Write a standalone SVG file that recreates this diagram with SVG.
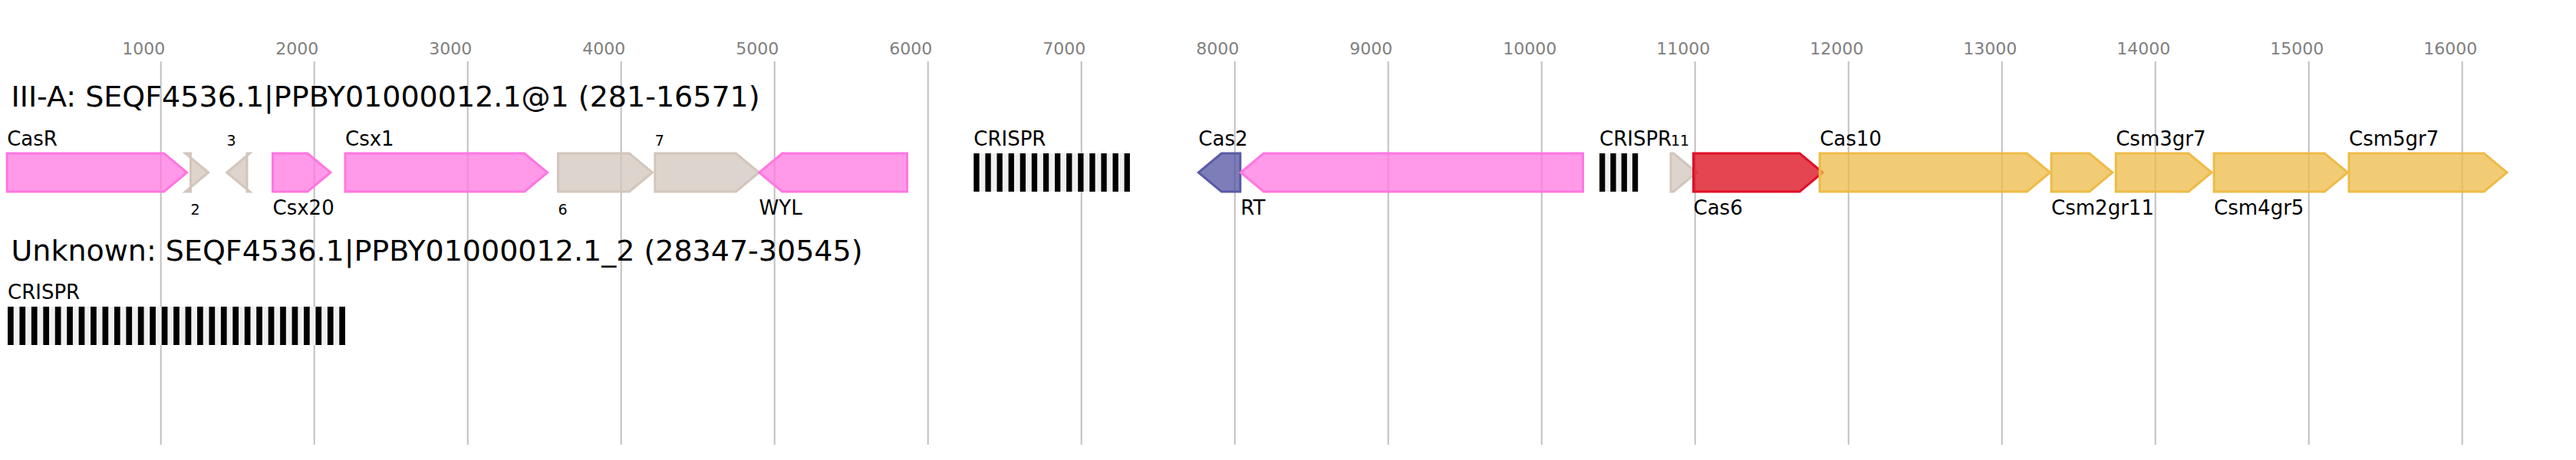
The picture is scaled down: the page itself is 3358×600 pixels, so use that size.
<svg xmlns="http://www.w3.org/2000/svg" width="3358" height="600" viewBox="0 0 3358 600">
<style>
text{font-family:"DejaVu Sans","Liberation Sans",sans-serif;fill:#000}
.tick{stroke:#c0c0c0;stroke-width:2}
.tl{font-size:22px;fill:#808080}
.title{font-size:38px}
.lbl{font-size:26px}
.sm{font-size:19px}
.gene{stroke-width:3;fill-opacity:0.75}
.pink{fill:#ff77e0;stroke:#ff77e0}
.gray{fill:#d2c6bc;stroke:#d2c6bc}
.blue{fill:#5252a2;stroke:#5a5aa6}
.red{fill:#dc0716;stroke:#e0102a}
.orange{fill:#eebb47;stroke:#eebb47}
.sp{fill:#f0f0f0}
.rp{fill:#000}
</style>
<rect width="3358" height="600" fill="#fff"/>
<g id="axis">
<line class="tick" x1="209.7" y1="80" x2="209.7" y2="580"/>
<line class="tick" x1="409.7" y1="80" x2="409.7" y2="580"/>
<line class="tick" x1="609.7" y1="80" x2="609.7" y2="580"/>
<line class="tick" x1="809.7" y1="80" x2="809.7" y2="580"/>
<line class="tick" x1="1009.7" y1="80" x2="1009.7" y2="580"/>
<line class="tick" x1="1209.7" y1="80" x2="1209.7" y2="580"/>
<line class="tick" x1="1409.7" y1="80" x2="1409.7" y2="580"/>
<line class="tick" x1="1609.7" y1="80" x2="1609.7" y2="580"/>
<line class="tick" x1="1809.7" y1="80" x2="1809.7" y2="580"/>
<line class="tick" x1="2009.7" y1="80" x2="2009.7" y2="580"/>
<line class="tick" x1="2209.7" y1="80" x2="2209.7" y2="580"/>
<line class="tick" x1="2409.7" y1="80" x2="2409.7" y2="580"/>
<line class="tick" x1="2609.7" y1="80" x2="2609.7" y2="580"/>
<line class="tick" x1="2809.7" y1="80" x2="2809.7" y2="580"/>
<line class="tick" x1="3009.7" y1="80" x2="3009.7" y2="580"/>
<line class="tick" x1="3209.7" y1="80" x2="3209.7" y2="580"/>
<text class="tl" x="159.2" y="70.7">1000</text>
<text class="tl" x="359.2" y="70.7">2000</text>
<text class="tl" x="559.2" y="70.7">3000</text>
<text class="tl" x="759.2" y="70.7">4000</text>
<text class="tl" x="959.2" y="70.7">5000</text>
<text class="tl" x="1159.2" y="70.7">6000</text>
<text class="tl" x="1359.2" y="70.7">7000</text>
<text class="tl" x="1559.2" y="70.7">8000</text>
<text class="tl" x="1759.2" y="70.7">9000</text>
<text class="tl" x="1959.2" y="70.7">10000</text>
<text class="tl" x="2159.2" y="70.7">11000</text>
<text class="tl" x="2359.2" y="70.7">12000</text>
<text class="tl" x="2559.2" y="70.7">13000</text>
<text class="tl" x="2759.2" y="70.7">14000</text>
<text class="tl" x="2959.2" y="70.7">15000</text>
<text class="tl" x="3159.2" y="70.7">16000</text>
</g>
<g id="titles">
<text class="title" x="14.5" y="139">III-A: SEQF4536.1|PPBY01000012.1@1 (281-16571)</text>
<text class="title" x="14.5" y="340">Unknown: SEQF4536.1|PPBY01000012.1_2 (28347-30545)</text>
</g>
<g id="connectors"></g>
<g id="n-CasR"><polygon class="gene pink" points="9.2,200 213.7,200 243.7,225 213.7,250 9.2,250"/><text class="lbl" x="9.2" y="190">CasR</text></g>
<g id="n-2"><polygon class="gene gray" points="248.5,200 241.7,200 271.7,225 241.7,250 248.5,250"/><text class="sm" x="248.5" y="279.5">2</text></g>
<g id="n-3"><polygon class="gene gray" points="322,200 325.6,200 295.6,225 325.6,250 322,250"/><text class="sm" x="295.6" y="190">3</text></g>
<g id="n-Csx20"><polygon class="gene pink" points="355.5,200 401,200 431,225 401,250 355.5,250"/><text class="lbl" x="355.5" y="279.5">Csx20</text></g>
<g id="n-Csx1"><polygon class="gene pink" points="450,200 683.7,200 713.7,225 683.7,250 450,250"/><text class="lbl" x="450" y="190">Csx1</text></g>
<g id="n-6"><polygon class="gene gray" points="727.5,200 820.4,200 850.4,225 820.4,250 727.5,250"/><text class="sm" x="727.5" y="279.5">6</text></g>
<g id="n-7"><polygon class="gene gray" points="853.8,200 959.4,200 989.4,225 959.4,250 853.8,250"/><text class="sm" x="853.8" y="190">7</text></g>
<g id="n-WYL"><polygon class="gene pink" points="1182.5,200 1019.6,200 989.6,225 1019.6,250 1182.5,250"/><text class="lbl" x="989.6" y="279.5">WYL</text></g>
<g id="n-CRISPR1">
<rect class="sp" x="1269.3" y="200" width="203.6" height="50"/>
<rect class="rp" x="1269.3" y="200" width="7.3" height="50"/><rect class="rp" x="1284.4" y="200" width="7.3" height="50"/><rect class="rp" x="1299.5" y="200" width="7.3" height="50"/><rect class="rp" x="1314.6" y="200" width="7.3" height="50"/><rect class="rp" x="1329.7" y="200" width="7.3" height="50"/><rect class="rp" x="1344.8" y="200" width="7.3" height="50"/><rect class="rp" x="1359.9" y="200" width="7.3" height="50"/><rect class="rp" x="1375" y="200" width="7.3" height="50"/><rect class="rp" x="1390.1" y="200" width="7.3" height="50"/><rect class="rp" x="1405.2" y="200" width="7.3" height="50"/><rect class="rp" x="1420.3" y="200" width="7.3" height="50"/><rect class="rp" x="1435.4" y="200" width="7.3" height="50"/><rect class="rp" x="1450.5" y="200" width="7.3" height="50"/><rect class="rp" x="1465.6" y="200" width="7.3" height="50"/>
<text class="lbl" x="1269.3" y="190">CRISPR</text></g>
<g id="n-Cas2"><polygon class="gene blue" points="1616.8,200 1592.3,200 1562.3,225 1592.3,250 1616.8,250"/><text class="lbl" x="1562.3" y="190">Cas2</text></g>
<g id="n-RT"><polygon class="gene pink" points="2063.5,200 1647.3,200 1617.3,225 1647.3,250 2063.5,250"/><text class="lbl" x="1617.3" y="279.5">RT</text></g>
<g id="n-CRISPR2">
<rect class="sp" x="2085" y="200" width="50.2" height="50"/>
<rect class="rp" x="2085" y="200" width="7.3" height="50"/><rect class="rp" x="2099.3" y="200" width="7.3" height="50"/><rect class="rp" x="2113.6" y="200" width="7.3" height="50"/><rect class="rp" x="2127.9" y="200" width="7.3" height="50"/>
<text class="lbl" x="2085" y="190">CRISPR</text></g>
<g id="n-11"><polygon class="gene gray" points="2178,200 2181.7,200 2211.7,225 2181.7,250 2178,250"/><text class="sm" x="2178" y="190">11</text></g>
<g id="n-Cas6"><polygon class="gene red" points="2207.5,200 2346,200 2376,225 2346,250 2207.5,250"/><text class="lbl" x="2207.5" y="279.5">Cas6</text></g>
<g id="n-Cas10"><polygon class="gene orange" points="2372.2,200 2642.4,200 2672.4,225 2642.4,250 2372.2,250"/><text class="lbl" x="2372.2" y="190">Cas10</text></g>
<g id="n-Csm2gr11"><polygon class="gene orange" points="2674.1,200 2723.7,200 2753.7,225 2723.7,250 2674.1,250"/><text class="lbl" x="2674.1" y="279.5">Csm2gr11</text></g>
<g id="n-Csm3gr7"><polygon class="gene orange" points="2758.2,200 2853,200 2883,225 2853,250 2758.2,250"/><text class="lbl" x="2758.2" y="190">Csm3gr7</text></g>
<g id="n-Csm4gr5"><polygon class="gene orange" points="2886.1,200 3030.3,200 3060.3,225 3030.3,250 2886.1,250"/><text class="lbl" x="2886.1" y="279.5">Csm4gr5</text></g>
<g id="n-Csm5gr7"><polygon class="gene orange" points="3062,200 3238,200 3268,225 3238,250 3062,250"/><text class="lbl" x="3062" y="190">Csm5gr7</text></g>
<g id="n-CRISPR3">
<rect class="sp" x="10" y="400" width="440" height="50"/>
<rect class="rp" x="10" y="400" width="7.7" height="50"/><rect class="rp" x="25.44" y="400" width="7.7" height="50"/><rect class="rp" x="40.88" y="400" width="7.7" height="50"/><rect class="rp" x="56.32" y="400" width="7.7" height="50"/><rect class="rp" x="71.76" y="400" width="7.7" height="50"/><rect class="rp" x="87.2" y="400" width="7.7" height="50"/><rect class="rp" x="102.64" y="400" width="7.7" height="50"/><rect class="rp" x="118.08" y="400" width="7.7" height="50"/><rect class="rp" x="133.52" y="400" width="7.7" height="50"/><rect class="rp" x="148.96" y="400" width="7.7" height="50"/><rect class="rp" x="164.4" y="400" width="7.7" height="50"/><rect class="rp" x="179.84" y="400" width="7.7" height="50"/><rect class="rp" x="195.28" y="400" width="7.7" height="50"/><rect class="rp" x="210.72" y="400" width="7.7" height="50"/><rect class="rp" x="226.16" y="400" width="7.7" height="50"/><rect class="rp" x="241.6" y="400" width="7.7" height="50"/><rect class="rp" x="257.04" y="400" width="7.7" height="50"/><rect class="rp" x="272.48" y="400" width="7.7" height="50"/><rect class="rp" x="287.92" y="400" width="7.7" height="50"/><rect class="rp" x="303.36" y="400" width="7.7" height="50"/><rect class="rp" x="318.8" y="400" width="7.7" height="50"/><rect class="rp" x="334.24" y="400" width="7.7" height="50"/><rect class="rp" x="349.68" y="400" width="7.7" height="50"/><rect class="rp" x="365.12" y="400" width="7.7" height="50"/><rect class="rp" x="380.56" y="400" width="7.7" height="50"/><rect class="rp" x="396" y="400" width="7.7" height="50"/><rect class="rp" x="411.44" y="400" width="7.7" height="50"/><rect class="rp" x="426.88" y="400" width="7.7" height="50"/><rect class="rp" x="442.3" y="400" width="7.7" height="50"/>
<text class="lbl" x="10" y="389.5">CRISPR</text></g>
</svg>
